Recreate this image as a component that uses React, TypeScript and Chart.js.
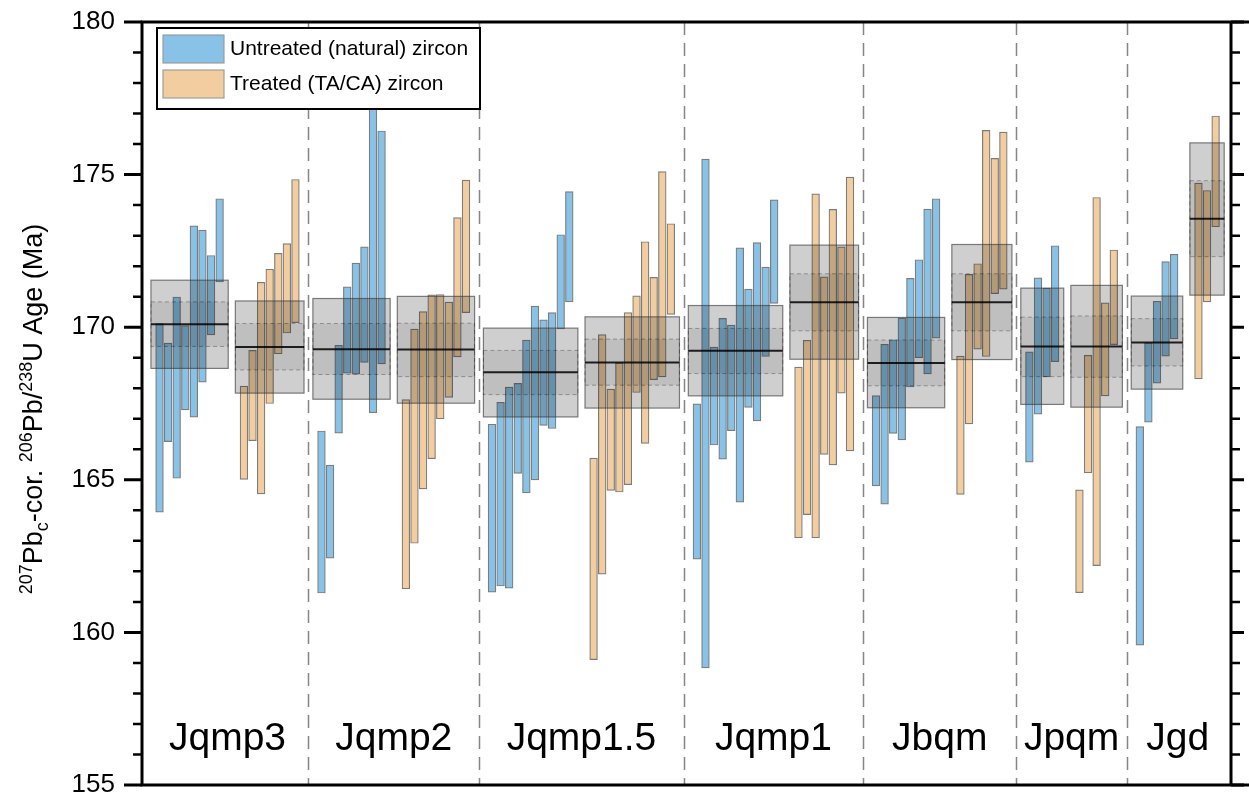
import React, { useEffect, useRef } from 'react';
import { Chart, registerables } from 'chart.js';

Chart.register(...registerables);

// ---------- data ----------
const groupNames = ['Jqmp3', 'Jqmp2', 'Jqmp1.5', 'Jqmp1', 'Jbqm', 'Jpqm', 'Jgd'];

// individual analyses: [low, high] (Ma), untreated (natural) zircon
const untreatedRanges: [number, number][][] = [
  [[163.94, 170.12], [166.25, 169.48], [165.05, 170.99], [167.29, 170.05], [167.05, 173.32], [168.2, 173.18], [169.75, 172.35], [171.48, 174.21]],
  [[161.29, 166.6], [162.43, 165.48], [166.53, 169.41], [168.49, 171.32], [168.46, 172.1], [168.85, 172.63], [167.2, 177.6], [168.8, 176.43]],
  [[161.32, 166.82], [161.52, 167.54], [161.45, 168.04], [165.21, 168.16], [164.57, 169.58], [165.0, 170.69], [166.78, 170.24], [166.68, 170.48], [169.94, 173.03], [170.83, 174.44]],
  [[162.4, 167.49], [158.84, 175.51], [166.14, 169.35], [165.68, 170.29], [166.61, 170.07], [164.27, 172.6], [167.37, 171.25], [166.93, 172.77], [169.04, 171.97], [170.78, 174.17]],
  [[164.8, 167.76], [164.2, 169.44], [166.52, 169.59], [166.31, 170.3], [168.04, 171.6], [169.0, 172.21], [168.47, 173.87], [169.64, 174.21]],
  [[165.58, 169.19], [167.15, 171.62], [168.37, 171.28], [168.87, 172.67]],
  [[159.58, 166.74], [166.89, 169.49], [168.17, 170.85], [169.05, 172.15], [169.62, 172.39]],
];

// individual analyses: [low, high] (Ma), treated (TA/CA) zircon
const treatedRanges: [number, number][][] = [
  [[165.01, 168.07], [166.28, 169.24], [164.54, 171.47], [167.5, 171.9], [169.13, 172.42], [169.81, 172.74], [170.15, 174.84]],
  [[161.43, 167.63], [162.92, 169.94], [164.7, 170.51], [165.69, 171.06], [167.0, 171.07], [167.7, 170.82], [169.03, 173.59], [170.48, 174.82]],
  [[159.11, 165.71], [161.91, 169.76], [164.65, 167.97], [164.6, 168.83], [164.84, 170.48], [167.86, 171.03], [166.19, 172.8], [168.28, 171.63], [168.37, 175.1], [170.42, 173.39]],
  [[163.1, 168.69], [163.86, 169.57], [163.1, 174.37], [165.83, 171.65], [165.49, 173.86], [167.84, 172.63], [165.95, 174.92]],
  [[164.52, 169.05], [166.83, 171.73], [169.28, 172.08], [169.04, 176.45], [171.1, 175.53], [171.25, 176.39]],
  [[161.3, 164.67], [165.23, 169.08], [162.19, 174.25], [167.75, 170.8], [169.43, 172.53]],
  [[168.31, 174.72], [170.83, 174.48], [173.29, 176.92]],
];

// weighted mean summaries per group
const untreatedMean = [170.1, 169.28, 168.52, 169.23, 168.83, 169.37, 169.5];
const untreatedBandLow = [169.37, 168.45, 167.79, 168.48, 168.08, 168.38, 168.73];
const untreatedBandHigh = [170.83, 170.12, 169.24, 169.96, 169.58, 170.33, 170.28];
const untreatedBoxLow = [168.65, 167.64, 167.06, 167.75, 167.36, 167.47, 167.97];
const untreatedBoxHigh = [171.54, 170.94, 169.97, 170.71, 170.32, 171.28, 171.02];

const treatedMean = [169.35, 169.27, 168.84, 170.82, 170.82, 169.37, 173.55];
const treatedBandLow = [168.6, 168.38, 168.1, 169.88, 169.88, 168.36, 172.31];
const treatedBandHigh = [170.12, 170.13, 169.61, 171.75, 171.75, 170.37, 174.8];
const treatedBoxLow = [167.84, 167.51, 167.35, 168.95, 168.94, 167.38, 171.05];
const treatedBoxHigh = [170.86, 171.01, 170.34, 172.69, 172.71, 171.37, 176.04];

const yTicks = [155, 160, 165, 170, 175, 180];
const legendLabels = ['Untreated (natural) zircon', 'Treated (TA/CA) zircon'];

// ---------- layout (slot units on a linear x scale) ----------
const FIRST_SLOT = 1.92;
const GAP_PAIR = 2.83;
const GAP_GROUP = 3.03;
const X_MIN = -0.12;
const X_MAX = 126.7;

const layout = (() => {
  let cursor = FIRST_SLOT;
  return groupNames.map((_, g) => {
    const bx = untreatedRanges[g].map((_, i) => cursor + i);
    cursor = bx[bx.length - 1] + GAP_PAIR;
    const ox = treatedRanges[g].map((_, i) => cursor + i);
    cursor = ox[ox.length - 1] + GAP_GROUP;
    return { bx, ox };
  });
})();

const BLUE = 'rgb(136,194,230)';
const ORANGE = 'rgb(242,205,159)';
const BAR_BORDER = 'rgba(110,110,110,0.9)';
const FONT = '"Liberation Sans", Arial, Helvetica, sans-serif';

function drawBox(ctx: CanvasRenderingContext2D, xs: any, ys: any, x0: number, x1: number,
  boxLo: number, boxHi: number, bandLo: number, bandHi: number, mean: number) {
  const L = xs.getPixelForValue(x0);
  const R = xs.getPixelForValue(x1);
  const T = ys.getPixelForValue(boxHi);
  const B = ys.getPixelForValue(boxLo);
  ctx.setLineDash([]);
  ctx.fillStyle = 'rgba(0,0,0,0.19)';
  ctx.fillRect(L, T, R - L, B - T);
  ctx.strokeStyle = 'rgba(60,60,60,0.65)';
  ctx.lineWidth = 1.2;
  ctx.strokeRect(L, T, R - L, B - T);
  const t2 = ys.getPixelForValue(bandHi);
  const b2 = ys.getPixelForValue(bandLo);
  ctx.fillStyle = 'rgba(0,0,0,0.08)';
  ctx.fillRect(L, t2, R - L, b2 - t2);
  ctx.setLineDash([4, 3]);
  ctx.strokeStyle = 'rgba(0,0,0,0.3)';
  ctx.lineWidth = 1;
  ctx.strokeRect(L, t2, R - L, b2 - t2);
  ctx.setLineDash([]);
  const m = ys.getPixelForValue(mean);
  ctx.strokeStyle = 'rgba(0,0,0,0.85)';
  ctx.lineWidth = 2;
  ctx.beginPath();
  ctx.moveTo(L, m);
  ctx.lineTo(R, m);
  ctx.stroke();
}

const overlayPlugin = {
  id: 'overlay',
  beforeDatasetsDraw(chart: any) {
    const { ctx, chartArea, scales } = chart;
    const xs = scales.x;
    ctx.save();
    ctx.strokeStyle = 'rgba(120,120,120,0.9)';
    ctx.lineWidth = 1.5;
    ctx.setLineDash([13, 8]);
    for (let g = 0; g < layout.length - 1; g++) {
      const lastO = layout[g].ox[layout[g].ox.length - 1];
      const nextB = layout[g + 1].bx[0];
      const px = Math.round(xs.getPixelForValue((lastO + nextB) / 2)) + 0.5;
      ctx.beginPath();
      ctx.moveTo(px, chartArea.top);
      ctx.lineTo(px, chartArea.bottom);
      ctx.stroke();
    }
    ctx.restore();
  },
  afterDatasetsDraw(chart: any) {
    const { ctx, chartArea, scales, width } = chart;
    const xs = scales.x;
    const ys = scales.y;
    ctx.save();

    // summary boxes
    layout.forEach((l, g) => {
      drawBox(ctx, xs, ys, l.bx[0] - 1, l.bx[l.bx.length - 1] + 1,
        untreatedBoxLow[g], untreatedBoxHigh[g], untreatedBandLow[g], untreatedBandHigh[g], untreatedMean[g]);
      drawBox(ctx, xs, ys, l.ox[0] - 1, l.ox[l.ox.length - 1] + 1,
        treatedBoxLow[g], treatedBoxHigh[g], treatedBandLow[g], treatedBandHigh[g], treatedMean[g]);
    });

    // group labels
    ctx.fillStyle = '#000';
    ctx.font = `39px ${FONT}`;
    ctx.textAlign = 'center';
    ctx.textBaseline = 'alphabetic';
    layout.forEach((l, g) => {
      const c = (l.bx[0] - 1 + l.ox[l.ox.length - 1] + 1) / 2;
      ctx.fillText(groupNames[g], xs.getPixelForValue(c), 750);
    });

    // frame
    const L = chartArea.left, R = chartArea.right, T = chartArea.top, B = chartArea.bottom;
    ctx.strokeStyle = '#000';
    ctx.lineWidth = 3;
    ctx.beginPath();
    ctx.moveTo(L, T - 1.5); ctx.lineTo(L, B + 1.5);
    ctx.moveTo(R, T); ctx.lineTo(R, B);
    ctx.moveTo(L - 1.5, T); ctx.lineTo(width, T);
    ctx.moveTo(L - 1.5, B); ctx.lineTo(width, B);
    ctx.stroke();

    // ticks (every 1 Ma, majors every 5)
    for (let v = ys.min; v <= ys.max; v += 1) {
      const py = ys.getPixelForValue(v);
      const major = v % 5 === 0;
      ctx.lineWidth = major ? 3 : 2.5;
      ctx.beginPath();
      ctx.moveTo(L - (major ? 18 : 9), py);
      ctx.lineTo(L, py);
      ctx.moveTo(R, py);
      ctx.lineTo(R + (major ? 13 : 9), py);
      ctx.stroke();
    }

    // legend
    ctx.fillStyle = '#fff';
    ctx.fillRect(157, 28, 323, 81);
    ctx.strokeStyle = '#000';
    ctx.lineWidth = 2;
    ctx.strokeRect(157, 28, 323, 81);
    [BLUE, ORANGE].forEach((col, i) => {
      const y0 = 35 + i * 35;
      ctx.fillStyle = col;
      ctx.fillRect(163, y0, 61, 28);
      ctx.strokeStyle = 'rgba(150,150,150,0.9)';
      ctx.lineWidth = 1.2;
      ctx.strokeRect(163, y0, 61, 28);
      ctx.fillStyle = '#000';
      ctx.font = `21px ${FONT}`;
      ctx.textAlign = 'left';
      ctx.textBaseline = 'middle';
      ctx.fillText(legendLabels[i], 230, y0 + 14);
    });

    // y-axis title with super/subscripts
    const pieces: { t: string; k: 'n' | 'sup' | 'sub' }[] = [
      { t: '207', k: 'sup' }, { t: 'Pb', k: 'n' }, { t: 'c', k: 'sub' }, { t: '-cor. ', k: 'n' },
      { t: '206', k: 'sup' }, { t: 'Pb/', k: 'n' }, { t: '238', k: 'sup' }, { t: 'U Age (Ma)', k: 'n' },
    ];
    const fontFor = (k: string) => (k === 'n' ? `27px ${FONT}` : `18px ${FONT}`);
    let total = 0;
    pieces.forEach((p) => { ctx.font = fontFor(p.k); total += ctx.measureText(p.t).width; });
    ctx.translate(42, 409);
    ctx.rotate(-Math.PI / 2);
    ctx.textAlign = 'left';
    ctx.textBaseline = 'alphabetic';
    ctx.fillStyle = '#000';
    let cx = -total / 2;
    pieces.forEach((p) => {
      ctx.font = fontFor(p.k);
      const dy = p.k === 'sup' ? -10 : p.k === 'sub' ? 6 : 0;
      ctx.fillText(p.t, cx, dy);
      cx += ctx.measureText(p.t).width;
    });
    ctx.restore();
  },
};

export default function App() {
  const ref = useRef<HTMLCanvasElement | null>(null);

  useEffect(() => {
    document.body.style.margin = '0';
    if (!ref.current) return;
    const untreatedData = layout.flatMap((l, g) =>
      untreatedRanges[g].map((r, i) => ({ x: l.bx[i], y: r })));
    const treatedData = layout.flatMap((l, g) =>
      treatedRanges[g].map((r, i) => ({ x: l.ox[i], y: r })));

    const chart = new Chart(ref.current, {
      type: 'bar',
      data: {
        datasets: [
          {
            label: legendLabels[0],
            data: untreatedData as any,
            backgroundColor: BLUE,
            borderColor: BAR_BORDER,
            borderWidth: 1.2,
            borderSkipped: false,
            barThickness: 7.7,
            grouped: false,
          } as any,
          {
            label: legendLabels[1],
            data: treatedData as any,
            backgroundColor: ORANGE,
            borderColor: BAR_BORDER,
            borderWidth: 1.2,
            borderSkipped: false,
            barThickness: 7.7,
            grouped: false,
          } as any,
        ],
      },
      options: {
        responsive: false,
        animation: false,
        events: [],
        layout: { padding: { left: 0, right: 18, top: 22, bottom: 14 } },
        plugins: { legend: { display: false }, tooltip: { enabled: false } },
        scales: {
          x: {
            type: 'linear',
            display: false,
            offset: false,
            min: X_MIN,
            max: X_MAX,
          },
          y: {
            type: 'linear',
            min: 155,
            max: 180,
            beginAtZero: false,
            afterFit: (s: any) => { s.width = 142; s.paddingTop = 0; s.paddingBottom = 0; },
            afterBuildTicks: (s: any) => { s.ticks = yTicks.map((v) => ({ value: v })); },
            grid: { display: false, drawTicks: false },
            border: { display: false },
            ticks: {
              color: '#000',
              padding: 27,
              font: { family: FONT, size: 26 },
            },
          },
        },
      } as any,
      plugins: [overlayPlugin],
    });
    return () => chart.destroy();
  }, []);

  return (
    <div style={{ position: 'relative', width: 1249, height: 799 }}>
      <canvas ref={ref} width={1249} height={799} style={{ display: 'block' }} />
    </div>
  );
}
